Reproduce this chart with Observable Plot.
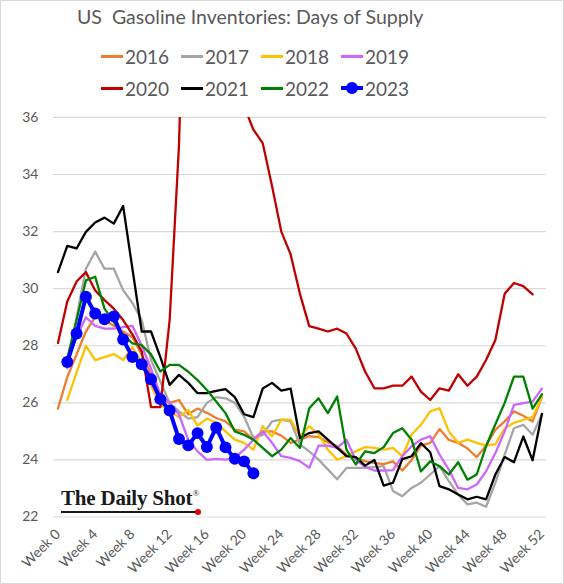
<!DOCTYPE html>
<html><head><meta charset="utf-8">
<script src="https://cdn.jsdelivr.net/npm/d3@7"></script>
<script src="https://cdn.jsdelivr.net/npm/@observablehq/plot@0.6"></script>
<style>
body{margin:0;background:#fff;}
#wrap{position:relative;width:564px;height:584px;box-sizing:border-box;border:1px solid #d9d9d9;overflow:hidden;font-family:Lato,"Open Sans",sans-serif;background:#fff;}
#title{position:absolute;left:76px;top:4px;font-size:19.5px;color:#595959;white-space:pre;}
.leg{position:absolute;height:20px;display:flex;align-items:center;font-size:19px;color:#595959;}
.sw{position:relative;width:22px;height:20px;margin-right:2px;}
.sw .ln{position:absolute;left:0;top:9px;width:22px;height:3px;}
.sw .dt{position:absolute;left:5px;top:4px;width:12px;height:12px;border-radius:6px;}
#chart{position:absolute;left:0;top:100px;}
#logo{position:absolute;left:60px;top:485px;font-family:"Liberation Serif","DejaVu Serif",serif;font-size:21px;font-weight:bold;color:#1a1a1a;letter-spacing:-0.2px;}
#logo sup{font-size:9px;vertical-align:top;position:relative;top:2px;font-weight:normal;}
#uline{position:absolute;left:60px;top:510px;width:136px;height:1.5px;background:#1a1a1a;}
#rdot{position:absolute;left:194px;top:508px;width:6px;height:6px;border-radius:3px;background:#e00000;}
</style></head>
<body>
<div id="wrap">
  <div id="title">US  Gasoline Inventories: Days of Supply</div>
  <div id="legend"></div>
  <div id="chart"></div>
  <div id="logo">The Daily Shot<sup>®</sup></div>
  <div id="uline"></div>
  <div id="rdot"></div>
</div>
<script>
const years = ["2016","2017","2018","2019","2020","2021","2022","2023"];
const colors = ["#ED7D31","#A5A5A5","#FFC000","#CC66FF","#C00000","#000000","#008000","#0000FF"];
const startWeek = [0,1,1,1,0,0,1,1];
const weekTicks = [0,4,8,12,16,20,24,28,32,36,40,44,48,52];
const yTicks = [22,24,26,28,30,32,34,36];

const v2016 = [25.8,26.9,27.7,28.5,29.0,28.9,28.7,28.5,28.3,27.7,27.0,26.1,26.0,26.1,25.6,25.8,25.65,25.47,25.35,25.06,25.0,24.71,25.0,25.0,24.85,24.6,24.71,24.83,24.8,24.62,24.48,24.19,24.07,23.96,23.9,23.85,23.95,23.63,24.0,24.5,24.6,25.08,24.7,24.6,24.4,24.1,24.5,25.05,25.35,25.7,25.55,25.35,26.2];
const v2017 = [27.2,29.0,30.7,31.3,30.7,30.7,29.95,29.5,28.9,27.5,26.75,26.0,25.7,25.45,25.5,26.0,26.2,26.16,26.0,25.52,24.77,24.88,25.35,25.41,25.35,24.54,24.3,24.01,23.67,23.32,23.72,23.72,23.72,23.75,23.78,22.91,22.73,23.02,23.2,23.49,23.78,23.26,22.79,22.44,22.5,22.36,23.2,24.19,25.11,25.23,24.88,25.6];
const v2018 = [26.1,27.07,28.0,27.5,27.6,27.71,27.5,27.95,27.4,26.6,25.95,25.7,25.5,25.75,25.2,25.45,25.3,25.0,24.71,24.6,24.36,25.18,24.83,25.41,25.41,24.83,25.18,24.9,24.36,24.01,24.13,24.3,24.45,24.42,24.36,24.42,24.13,24.88,25.23,25.7,25.81,25.0,24.6,24.71,24.6,24.5,24.55,25.1,25.3,25.4,25.5,26.2];
const v2019 = [27.6,28.3,29.0,28.7,28.6,28.6,28.65,28.7,28.0,27.2,26.3,26.0,25.6,24.7,24.3,24.0,24.04,24.01,24.07,24.36,24.71,25.0,24.6,24.13,24.07,23.96,23.72,24.5,24.5,24.42,24.71,24.0,23.76,23.63,23.63,23.64,24.13,24.48,24.71,24.83,24.19,23.66,23.02,22.97,23.14,23.6,24.24,25.0,25.93,25.99,26.04,26.5];
const v2020 = [28.1,29.55,30.25,30.58,29.94,29.6,29.3,28.9,28.4,27.8,25.85,25.85,28.9,35.0,46,54,52,48,43,39.5,36.4,35.57,35.1,33.6,32.0,31.2,29.82,28.69,28.6,28.5,28.6,28.43,27.9,27.1,26.51,26.51,26.6,26.6,26.92,26.39,26.1,26.51,26.43,27.0,26.6,26.92,27.5,28.2,29.82,30.2,30.09,29.8];
const v2021 = [30.58,31.5,31.41,31.99,32.32,32.49,32.28,32.9,30.7,28.5,28.5,27.6,26.63,26.98,26.7,26.34,26.34,26.42,26.48,26.2,25.6,25.5,26.5,26.7,26.43,26.5,24.77,24.94,25.0,24.71,24.42,24.13,24.1,23.8,24.0,23.1,23.2,24.03,24.13,24.59,24.27,23.08,22.97,22.79,22.62,22.71,22.62,23.49,24.1,23.92,24.82,23.99,25.61];
const v2022 = [27.55,28.9,30.29,30.42,29.3,28.83,28.4,28.08,28.02,27.7,27.1,27.33,27.33,27.09,26.8,26.45,26.05,25.64,25.0,24.88,24.71,24.42,24.13,24.36,24.77,24.42,25.81,26.16,25.64,26.22,24.36,23.84,24.3,24.24,24.45,24.94,25.11,24.71,23.6,23.95,23.78,23.49,23.92,23.31,23.49,24.48,25.25,26.0,26.92,26.92,25.8,26.3];
const v2023 = [27.43,28.43,29.72,29.13,28.93,29.03,28.22,27.61,27.35,26.83,26.13,25.73,24.73,24.51,24.94,24.45,25.14,24.44,24.04,23.95,23.53];

const series = [v2016,v2017,v2018,v2019,v2020,v2021,v2022,v2023];
const rows = [];
series.forEach((vals, i) => vals.forEach((v, j) => rows.push({year: years[i], week: startWeek[i] + j, value: v})));
const others = rows.filter(d => d.year !== "2023");
const latest = rows.filter(d => d.year === "2023");

// legend
const legend = document.getElementById("legend");
const legX = [100,180,260,340];
const legY = [45,77];
years.forEach((y, i) => {
  const it = document.createElement("div");
  it.className = "leg";
  it.style.left = legX[i % 4] + "px";
  it.style.top = legY[Math.floor(i / 4)] + "px";
  const sw = document.createElement("div");
  sw.className = "sw";
  const ln = document.createElement("div");
  ln.className = "ln"; ln.style.background = colors[i];
  if (y === "2023") { ln.style.height = "4px"; ln.style.top = "8px"; }
  sw.appendChild(ln);
  if (y === "2023") { const dt = document.createElement("div"); dt.className = "dt"; dt.style.background = colors[i]; sw.appendChild(dt); }
  it.appendChild(sw);
  const t = document.createElement("span"); t.textContent = y; it.appendChild(t);
  legend.appendChild(it);
});

const chart = Plot.plot({
  width: 564, height: 484,
  marginTop: 16, marginBottom: 67, marginLeft: 52, marginRight: 17,
  style: {fontFamily: "Lato, 'Open Sans', sans-serif", fontSize: "14px", color: "#595959", background: "transparent", overflow: "visible"},
  x: {type: "linear", domain: [-0.5, 52.5], ticks: weekTicks, tickFormat: d => "Week " + d, tickRotate: -45, tickSize: 0, tickPadding: 15, label: null},
  y: {domain: [22, 36], ticks: yTicks, tickSize: 0, tickPadding: 15, label: null},
  color: {domain: years, range: colors},
  marks: [
    Plot.ruleY(yTicks, {stroke: "#d9d9d9", strokeWidth: 1.2, strokeOpacity: 1}),
    Plot.line(others, {x: "week", y: "value", z: "year", stroke: "year", strokeWidth: 2.3, clip: true}),
    Plot.line(latest, {x: "week", y: "value", stroke: "year", strokeWidth: 4}),
    Plot.dot(latest, {x: "week", y: "value", fill: "year", r: 6})
  ]
});
document.getElementById("chart").appendChild(chart);
</script>
</body></html>
